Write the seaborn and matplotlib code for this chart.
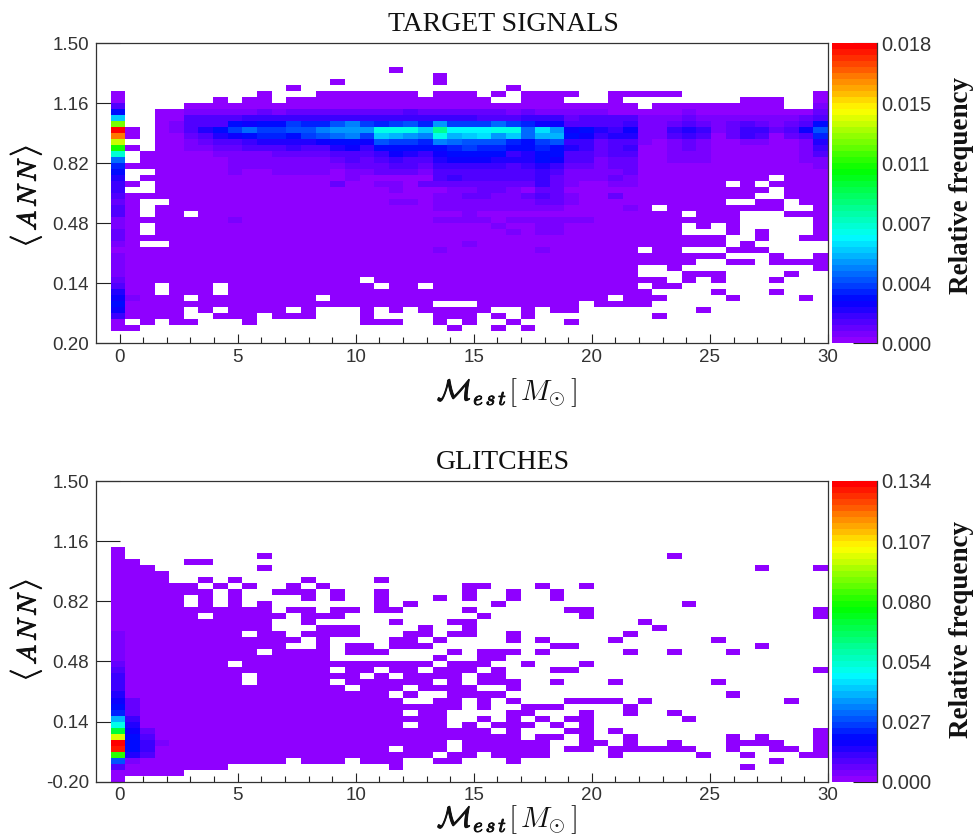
#!/usr/bin/env python

import numpy as np
import pandas as pd
import matplotlib
matplotlib.use('Agg')
import matplotlib.pyplot as plt
import matplotlib.patheffects as pe
from matplotlib.colors import LinearSegmentedColormap, ListedColormap
import seaborn as sns

# histogram levels, one char per bin, top row first, '.' is an empty bin
# each char is the colour step (0-49) of the z axis palette
level_chars = '0123456789abcdefghijklmnopqrstuvwxyzABCDEFGHIJKLMN'

target_rows = [
    '.......... .......... .......... .......... ..........',
    '.......... .......... .......... .......... ..........',
    '.......... .......... .......... .......... ..........',
    '.......... .......... .......... .......... ..........',
    '.......... .......... 0......... .......... ..........',
    '.......... .......... ...0...... .......... ..........',
    '.......... ......0... ...0...... .......... ..........',
    '.......... ...0...... ........0. .......... ..........',
    '.0........ .0...00000 00.000.0.0 000..00000 .........0',
    '.0......0. 00.0000000 0000000..0 00...0.... ....000..0',
    '.3....0000 0000000000 0000000000 0000000.00 0000000..1',
    '.7..001111 1212222222 2322222212 1111100000 1000000002',
    '.f..003333 4444444444 4444443334 4423333111 2111111123',
    '.x..013337 677988ac98 9a8d999b98 6633334112 3212321237',
    '.N0.013579 b99aacdddi iifmhhhiib gd67546114 541244236a',
    '.I0.002356 78879abc9f edciefgdfb ee76455113 4302430238',
    '.A..001233 455556776a 998cbaaa87 9a44233101 2100110015',
    '.t0.001122 3334335647 7777898877 8754234001 2100000014',
    '.j.0000011 1122223334 6546777745 7733233001 1100000013',
    '.b.0000001 1111112323 4335666555 7633122001 1100000011',
    '.800000001 1111111222 3324444434 5422122000 0000000001',
    '.7..000001 0011110112 2213333333 4311112000 0000000000',
    '.5.0000000 0000000100 0003433333 4211121000 000000.000',
    '.40.000000 0000002001 1022222222 4210011000 000.0.0000',
    '.4..000000 0000000000 1000112210 2200000000 000000.000',
    '.300000000 0000000000 0001122112 3210020000 00000..000',
    '.20..00000 0000000000 1101111111 2210000000 000..00.00',
    '.30.000000 0000000000 0001111111 11000010.0 0000000..0',
    '.30.00.000 0000000000 0000010000 0000000000 .000...000',
    '.100000001 0000000000 0001111011 1111000000 0000.....0',
    '.10.000000 0000000000 0000000100 1100000000 .0.0.....0',
    '.20.000000 0000000000 0000000010 1100000000 ...0.0...0',
    '.200000000 0000000000 0000000000 0000000000 000..0..00',
    '.10..00000 0000000000 0000010000 0000000000 000.0.....',
    '.000000000 0000000000 0001000000 1000000.00 ...000....',
    '.100000000 0000000000 0000000000 0000000000 000...0..0',
    '.100000000 0000000000 0000000000 0000000000 0..00.0000',
    '.100000000 0000000000 0000000000 0000000..0 .........0',
    '.100000000 0000000000 0000000000 0000000... 000....0..',
    '.200000000 00000000.0 0000000000 000000000. 0.0...0...',
    '.300.000.0 000000000. 00.0000000 0000000.00 ..........',
    '.500.000.0 0000000000 0000000000 00000000.. ..0...0...',
    '.61000.000 00000.0000 0000000000 00000.000. ...0....0.',
    '.700000000 0000000000 000...0000 000.0000.. ..........',
    '.60000.0.0 000.0...0. 0.00000..0 .00....... .0........',
    '.40000..00 0.000...0. ...000.0.0 ........0. ..........',
    '.0.0.00... 0.......00 0..0.0..0. ..0....... ..........',
    '.00....... .......... ....0..0.0 .......... ..........',
    '.......... .......... .......... .......... ..........',
    '.......... .......... .......... .......... ..........',
]

glitch_rows = [
    '.......... .......... .......... .......... ..........',
    '.......... .......... .......... .......... ..........',
    '.......... .......... .......... .......... ..........',
    '.......... .......... .......... .......... ..........',
    '.......... .......... .......... .......... ..........',
    '.......... .......... .......... .......... ..........',
    '.......... .......... .......... .......... ..........',
    '.......... .......... .......... .......... ..........',
    '.......... .......... .......... .......... ..........',
    '.......... .......... .......... .......... ..........',
    '.......... .......... .......... .......... ..........',
    '.0........ .......... .......... .......... ..........',
    '.0........ .0........ .......... .........0 ..........',
    '.00...00.. .......... .......... .......... ..........',
    '.000...... .0........ .......... .......... .....0...0',
    '.0000..... .......... .......... .......... ..........',
    '.0000..0.0 ....0....0 .......... .......... ..........',
    '.000000.0. 0..0.0.... .....00... 0..0...... ..........',
    '.0000000.0 ..000.0..0 .....0..0. .0........ ..........',
    '.00000.0.0 ....0.0..0 ...0.0..0. .0........ ..........',
    '.00000.0.0 .0.......0 .0.....0.. .......... 0.........',
    '.000000000 00.00.00.0 0....0.... ..00...... .........0',
    '.000000.00 000.000... ......0... ...0...... .........0',
    '.000000000 00..0..... 0...00.... .......0.. ..........',
    '.000000000 00...000.. ..0..0.... ........0. ..........',
    '.100000000 .00.0000.. .00.00..0. ......0... ..........',
    '.100000000 0000.0.... 00.0....0. 0....0.... ..0.......',
    '.100000000 000..0.00. 000....... .00....... .....0....',
    '.100000000 0.0000.000 ....0.000. 0.....0..0 ...0......',
    '.100000000 000000.... ...0..00.. .......... ..........',
    '.20000000. 0000000000 000.000..0 ...0...... ..........',
    '.300000000 000000.00. 00.000.0.. .00....... .........0',
    '.400000000 .0000000.0 .0000.00.. .......... ..........',
    '.400000000 .00000.000 000.0.000. .0...0.... ..0.......',
    '.400000000 0000000.00 0.0000..0. .......... ..........',
    '.500000000 0000000000 .0..0000.. .......... ...0......',
    '.620000000 0000000000 0..00.0.0. ..0000.0.. .......0..',
    '.720000000 0000000000 00000.0..0 00....0... ..........',
    '.820000000 0000000000 0.00....00 ...0..0..0 ..........',
    '.e40000000 0000000000 0000..0.0. 0.00...... 0.........',
    '.i50000000 0000000000 0.00.0.000 .0.0...... ..........',
    '.q62000000 0000000000 0000000.0. ..00.0.... .........0',
    '.B73000000 0000000000 000000000. 00.0..0... ...0.0...0',
    '.N74100000 0000000000 0000.00000 0..00.0..0 ...0000..0',
    '.M74000000 0000000000 .000.00000 0.00.00000 0..0..00.0',
    '.u53000000 0000000000 000.00.000 0....0.... .0..0...00',
    '.a10000000 000.000.00 0..00...0. .......... ......0...',
    '.30000000. .......... 0......... .......... ....0.....',
    '.00000.... .......... .......... .......... ..........',
    '.0........ .......... .......... .......... ..........',
]

target_max = 0.018
glitch_max = 0.134
target_cbar_labels = ['0.000', '0.004', '0.007', '0.011', '0.015', '0.018']
glitch_cbar_labels = ['0.000', '0.027', '0.054', '0.080', '0.107', '0.134']
target_y_labels = ['1.50', '1.16', '0.82', '0.48', '0.14', '0.20']
glitch_y_labels = ['1.50', '1.16', '0.82', '0.48', '0.14', '-0.20']
x_labels = ['0', '5', '10', '15', '20', '25', '30']

x_low, x_high = -1.0, 30.0
y_low, y_high = -0.2, 1.5
n_bins = 50

sns.set_style('white')
plt.rcParams['font.family'] = ['Liberation Sans', 'DejaVu Sans']
plt.rcParams['mathtext.fontset'] = 'cm'

# ROOT style rainbow palette, 50 steps
rainbow = LinearSegmentedColormap.from_list(
    'root', [(0.0, '#8f00ff'), (0.133, '#0000ff'), (0.35, '#00ffff'),
             (0.578, '#00ff00'), (0.783, '#ffff00'), (1.0, '#ff0000')])
palette = ListedColormap(rainbow(np.linspace(0, 1, n_bins)))
fake_bold = [pe.withStroke(linewidth=0.7, foreground='#111111')]


def decode(rows, vmax):
    table = []
    for row in rows:
        chars = row.replace(' ', '')
        table.append([np.nan if c == '.' else (level_chars.index(c) + 0.5) / n_bins * vmax for c in chars])
    return pd.DataFrame(table)


def x_pos(val):
    return (val - x_low) / (x_high - x_low) * n_bins


def y_pos(val):
    return (y_high - val) / (y_high - y_low) * n_bins


def draw_panel(fig, top_px, height_px, rows, vmax, y_labels, cbar_labels, title, label_base_px, ann_px, rel_px):
    w, h = fig.get_size_inches() * fig.dpi
    ax = fig.add_axes([96 / w, 1 - (top_px + height_px) / h, 732 / w, height_px / h])
    cax = fig.add_axes([832 / w, 1 - (top_px + height_px) / h, 45 / w, height_px / h])
    sns.heatmap(decode(rows, vmax), ax=ax, cbar_ax=cax, cmap=palette, vmin=0, vmax=vmax,
                xticklabels=False, yticklabels=False,
                cbar_kws={'ticks': np.linspace(0, vmax, 6)})

    for side in ax.spines:
        ax.spines[side].set_visible(True)
        ax.spines[side].set_color('#333333')
        ax.spines[side].set_linewidth(0.9)

    x_major = np.arange(0, 31, 5)
    x_minor = np.arange(0, 31, 1)
    ax.set_xticks(x_pos(x_major))
    ax.set_xticklabels(x_labels)
    ax.set_xticks(x_pos(x_minor), minor=True)
    y_major = np.linspace(y_high, y_low, 6)
    ax.set_yticks(y_pos(y_major))
    ax.set_yticklabels(y_labels, rotation=0)
    ax.tick_params(axis='x', which='major', direction='in', bottom=True, length=6.5, width=0.8,
                   color='#222222', labelsize=13.5, labelcolor='#333333', pad=4)
    ax.tick_params(axis='x', which='minor', direction='in', bottom=True, length=4, width=0.8, color='#222222')
    ax.tick_params(axis='y', direction='in', left=True, length=17, width=0.8,
                   color='#222222', labelsize=13.5, labelcolor='#333333', pad=5)

    cbar = ax.collections[0].colorbar
    cbar.outline.set_visible(False)
    cax.spines['right'].set_visible(True)
    cax.spines['right'].set_color('#333333')
    cax.spines['right'].set_linewidth(0.9)
    cbar.set_ticklabels(cbar_labels)
    cax.tick_params(axis='y', direction='in', right=True, length=17, width=0.8,
                    color='#222222', labelsize=14.5, labelcolor='#333333', pad=3)

    fig.text(503 / w, 1 - (top_px - 19) / h, title, family='Liberation Serif', fontsize=20,
             ha='center', va='center', color='#111111')
    fig.text(507 / w, 1 - label_base_px / h, r'$\mathcal{M}_{e\,s\,t}$', fontsize=21,
             ha='right', va='baseline', color='#111111', path_effects=fake_bold)
    fig.text(508 / w, 1 - label_base_px / h, r'$[\,M_{\odot}\,]$', fontsize=21,
             ha='left', va='baseline', color='#111111')
    fig.text(25 / w, 1 - ann_px / h, r'$\langle\, A\,N\,N\,\rangle$',
             fontsize=19, rotation=90, ha='center', va='center', color='#111111', path_effects=fake_bold)
    fig.text(962 / w, 1 - rel_px / h, 'Relative frequency', family='Liberation Serif',
             fontweight='bold', fontsize=19.5, rotation=90, ha='center', va='center', color='#111111')


fig = plt.figure(figsize=(9.76, 8.36), dpi=100)
draw_panel(fig, 43.3, 300, target_rows, target_max, target_y_labels, target_cbar_labels,
           'TARGET SIGNALS', 400, 196, 186)
draw_panel(fig, 481, 300.7, glitch_rows, glitch_max, glitch_y_labels, glitch_cbar_labels,
           'GLITCHES', 827, 630, 629)
fig.savefig('out.png', dpi=100)
